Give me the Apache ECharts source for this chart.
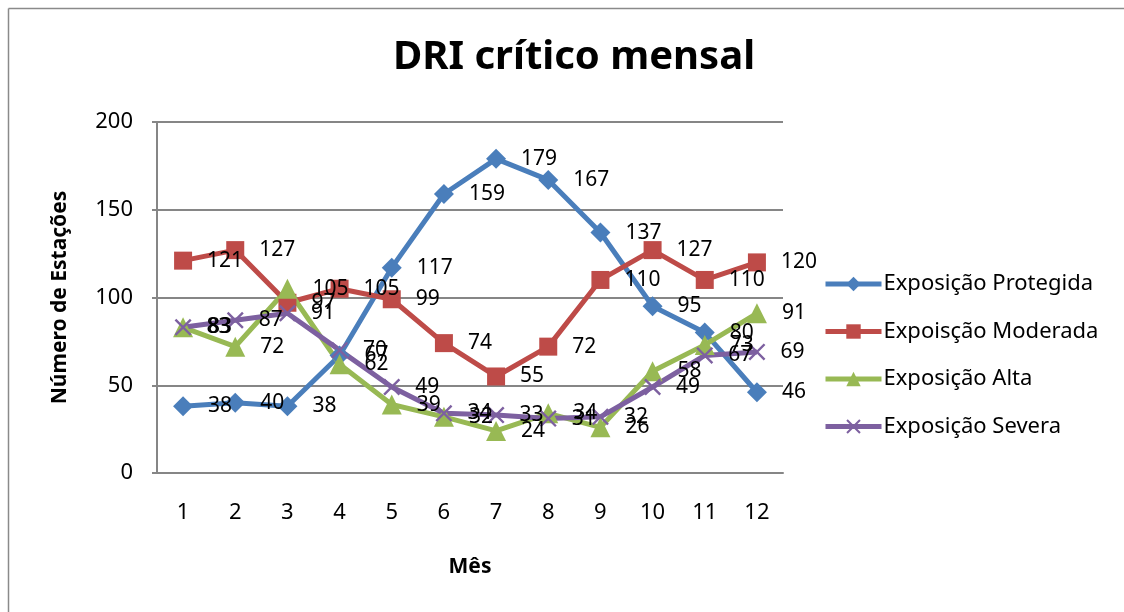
<!DOCTYPE html>
<html>
<head>
<meta charset="utf-8">
<script src="https://cdn.jsdelivr.net/npm/echarts@6/dist/echarts.min.js"></script>
<style>
  html, body { margin: 0; padding: 0; background: #fff; }
  #chart { width: 1124px; height: 612px; }
</style>
</head>
<body>
<div id="chart"></div>
<script>
var months = ['1', '2', '3', '4', '5', '6', '7', '8', '9', '10', '11', '12'];
var protegida = [38, 40, 38, 67, 117, 159, 179, 167, 137, 95, 80, 46];
var moderada = [121, 127, 97, 105, 99, 74, 55, 72, 110, 127, 110, 120];
var alta = [83, 72, 105, 62, 39, 32, 24, 34, 26, 58, 73, 91];
var severa = [83, 87, 91, 70, 49, 34, 33, 31, 32, 49, 67, 69];

var FONT = '"Noto Sans", sans-serif';
var crossPath = 'path://M0,1L1,0L10,9L9,10Z M9,0L10,1L1,10L0,9Z';

function makeSeries(name, data, color, symbol, size) {
  return {
    name: name,
    type: 'line',
    data: data,
    symbol: symbol,
    symbolSize: size,
    lineStyle: { color: color, width: 5 },
    itemStyle: { color: color },
    label: {
      show: true,
      position: 'right',
      distance: 15,
      color: '#000',
      fontFamily: FONT,
      fontSize: 21
    }
  };
}

var chart = echarts.init(document.getElementById('chart'));

var option = {
  backgroundColor: '#fff',
  animation: false,
  textStyle: { fontFamily: FONT },
  title: {
    text: 'DRI crítico mensal',
    left: 569,
    top: 33,
    textAlign: 'center',
    textStyle: { fontSize: 40, fontWeight: 'bold', color: '#000', fontFamily: FONT }
  },
  graphic: [
    {
      type: 'line',
      shape: { x1: 8.5, y1: 8.5, x2: 1124, y2: 8.5 },
      style: { stroke: '#8a8a8a', lineWidth: 1.5 },
      silent: true
    },
    {
      type: 'line',
      shape: { x1: 8.5, y1: 8.5, x2: 8.5, y2: 612 },
      style: { stroke: '#8a8a8a', lineWidth: 1.5 },
      silent: true
    }
  ],
  legend: {
    orient: 'vertical',
    left: 818,
    top: 268,
    itemWidth: 56,
    itemHeight: 18,
    itemGap: 25.5,
    lineStyle: { width: 5 },
    textStyle: { fontSize: 22, color: '#000', fontFamily: FONT, padding: [0, 0, 0, -3] },
    data: ['Exposição Protegida', 'Expoisção Moderada', 'Exposição Alta', 'Exposição Severa']
  },
  grid: { left: 157, top: 122, width: 626, height: 351 },
  xAxis: {
    type: 'category',
    data: months,
    name: 'Mês',
    nameLocation: 'middle',
    nameGap: 84,
    nameTextStyle: { fontSize: 21, fontWeight: 'bold', color: '#000', fontFamily: FONT },
    axisLine: { lineStyle: { color: '#868686', width: 2 } },
    axisTick: { show: false },
    axisLabel: { color: '#000', fontSize: 22, margin: 29, fontFamily: FONT }
  },
  yAxis: {
    type: 'value',
    min: 0,
    max: 200,
    interval: 50,
    name: 'Número de Estações',
    nameLocation: 'middle',
    nameGap: 86,
    nameTextStyle: { fontSize: 21, fontWeight: 'bold', color: '#000', fontFamily: FONT },
    axisLine: { show: true, lineStyle: { color: '#868686', width: 2 } },
    axisTick: { show: true, length: 5, lineStyle: { color: '#868686', width: 2 } },
    axisLabel: { color: '#000', fontSize: 22, margin: 24, fontFamily: FONT },
    splitLine: { lineStyle: { color: '#868686', width: 2 } }
  },
  series: [
    makeSeries('Exposição Protegida', protegida, '#4A7EBB', 'diamond', 20),
    makeSeries('Expoisção Moderada', moderada, '#BE4B48', 'rect', 18),
    makeSeries('Exposição Alta', alta, '#98B954', 'triangle', 20),
    makeSeries('Exposição Severa', severa, '#7D60A0', crossPath, 17)
  ]
};

chart.setOption(option);
</script>
</body>
</html>
